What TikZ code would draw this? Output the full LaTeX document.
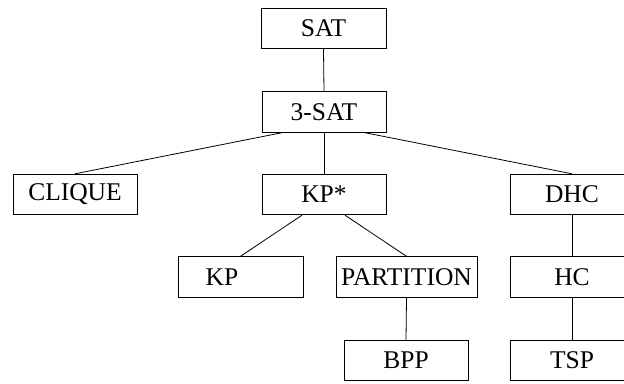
\documentclass[tikz,border=0pt]{standalone}
\usepackage{fontspec}
\setmainfont{Liberation Serif}
\usetikzlibrary{calc}
\begin{document}
\begin{tikzpicture}[x=1pt,y=-1pt,
  probbox/.style={draw, line width=0.9pt, minimum width=124pt, minimum height=40.5pt, inner sep=0pt, font=\fontsize{25.5}{27}\selectfont},
  link/.style={line width=0.8pt}]
\useasboundingbox (0,0) rectangle (624,383);
\node[probbox, minimum width=125pt] (sat) at (323.5,28.5) {SAT};
\node[probbox] (sat3) at (324,112) {3-SAT};
\node[probbox] (clique) at (75,194.5) {CLIQUE};
\node[probbox] (kpstar) at (324,194.5) {KP*};
\node[probbox] (dhc) at (572,194.5) {DHC};
\node[probbox, minimum width=125pt] (kp) at (240.5,277) {\makebox[0pt]{KP\hspace*{37pt}}};
\node[probbox, minimum width=141pt] (partition) at (406.5,277) {PARTITION};
\node[probbox] (hc) at (572,277) {HC};
\node[probbox] (bpp) at (406,360.5) {BPP};
\node[probbox] (tsp) at (572,360.5) {TSP};
\draw[link] (sat.south) -- (sat3.north);
\draw[link] ($(sat3.south)+(-42,0)$) -- (clique.north);
\draw[link] (sat3.south) -- (kpstar.north);
\draw[link] ($(sat3.south)+(41,0)$) -- (dhc.north);
\draw[link] ($(kpstar.south)+(-22,0)$) -- (kp.north);
\draw[link] ($(kpstar.south)+(21,0)$) -- (partition.north);
\draw[link] (partition.south) -- (bpp.north);
\draw[link] (dhc.south) -- (hc.north);
\draw[link] (hc.south) -- (tsp.north);
\end{tikzpicture}
\end{document}
